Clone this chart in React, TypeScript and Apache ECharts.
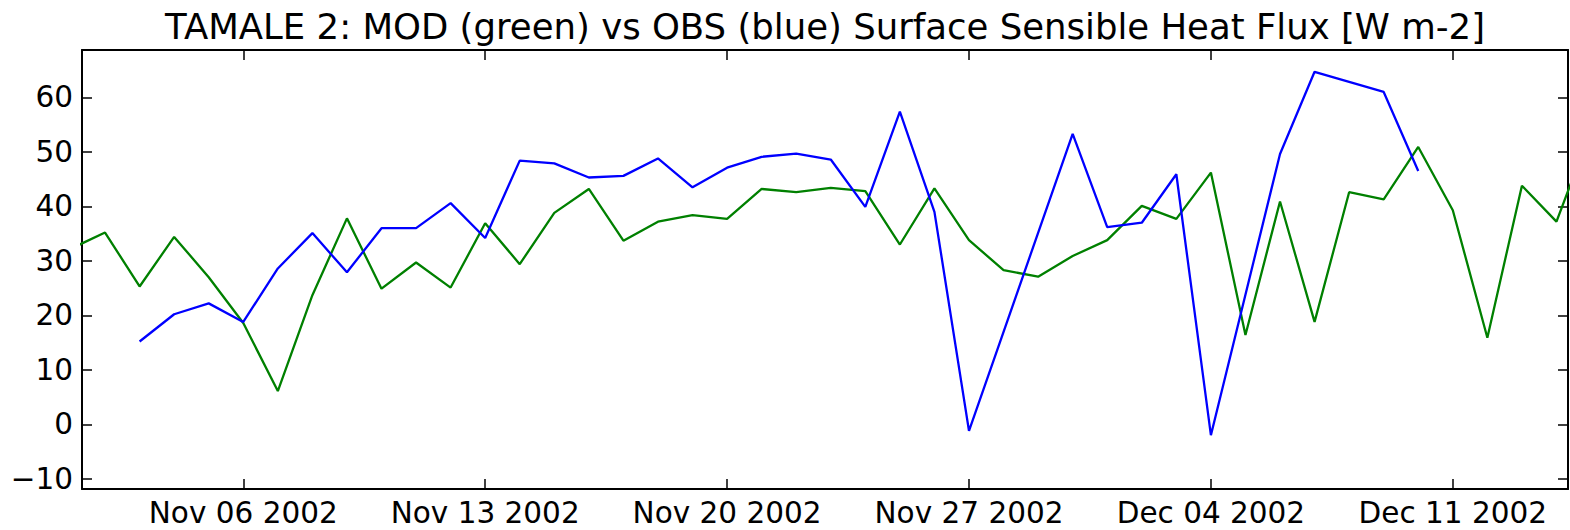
import React, { useEffect, useRef } from "react";
import * as echarts from "echarts";

// ---- Data ----
const TITLE = "TAMALE 2: MOD (green) vs OBS (blue) Surface Sensible Heat Flux [W m-2]";

// MOD: daily values from 2002-11-01 to 2002-12-15
const modStart = "2002-11-01";
const modValues = [
  32.2, 35.2, 25.3, 34.4, 27.0, 18.6, 6.1, 23.7, 37.8, 24.9,
  29.7, 25.1, 36.9, 29.4, 38.8, 43.2, 33.7, 37.2, 38.4, 37.7,
  43.2, 42.6, 43.4, 42.8, 33.0, 43.3, 33.8, 28.3, 27.1, 30.9,
  33.8, 40.1, 37.7, 46.2, 16.4, 40.9, 18.8, 42.6, 41.3, 50.9,
  39.3, 15.9, 43.8, 37.2, 54.0,
];

// OBS: dates with observations
const obsDates = [
  "2002-11-03", "2002-11-04", "2002-11-05", "2002-11-06", "2002-11-07",
  "2002-11-08", "2002-11-09", "2002-11-10", "2002-11-11", "2002-11-12",
  "2002-11-13", "2002-11-14", "2002-11-15", "2002-11-16", "2002-11-17",
  "2002-11-18", "2002-11-19", "2002-11-20", "2002-11-21", "2002-11-22",
  "2002-11-23", "2002-11-24", "2002-11-25", "2002-11-26", "2002-11-27",
  "2002-11-30", "2002-12-01", "2002-12-02", "2002-12-03", "2002-12-04",
  "2002-12-06", "2002-12-07", "2002-12-09", "2002-12-10",
];
const obsValues = [
  15.2, 20.2, 22.2, 18.8, 28.6,
  35.1, 27.9, 36.0, 36.0, 40.6,
  34.2, 48.4, 47.9, 45.3, 45.6,
  48.8, 43.5, 47.1, 49.1, 49.7,
  48.6, 39.9, 57.4, 39.0, -1.2,
  53.3, 36.2, 37.0, 45.9, -2.0,
  49.6, 64.7, 61.0, 46.5,
];

const xTickDates = ["2002-11-06", "2002-11-13", "2002-11-20", "2002-11-27", "2002-12-04", "2002-12-11"];
const yTickValues = [-10, 0, 10, 20, 30, 40, 50, 60];
const xRange = ["2002-11-01T08:00:00Z", "2002-12-14T08:00:00Z"];
const yRange = [-11.87, 68.7];

const MONTHS = ["Jan", "Feb", "Mar", "Apr", "May", "Jun", "Jul", "Aug", "Sep", "Oct", "Nov", "Dec"];
const DAY = 86400000;
const ts = (s: string) => Date.parse(s.length === 10 ? s + "T00:00:00Z" : s);
const fmtDate = (v: number) => {
  const d = new Date(v);
  const dd = String(d.getUTCDate()).padStart(2, "0");
  return `${MONTHS[d.getUTCMonth()]} ${dd} ${d.getUTCFullYear()}`;
};

const FONT = "DejaVu Sans";

export default function App() {
  const ref = useRef<HTMLDivElement>(null);

  useEffect(() => {
    if (!ref.current) return;
    const chart = echarts.init(ref.current, undefined, { renderer: "svg" });

    const t0 = ts(modStart);
    const modData = modValues.map((v, i) => [t0 + i * DAY, v]);
    const obsData = obsDates.map((d, i) => [ts(d), obsValues[i]]);
    const xTicks = xTickDates.map(ts);

    const axisLine = { show: true, onZero: false, lineStyle: { color: "#000", width: 2 } };
    const tickStyle = { color: "#000", width: 1.5 };

    const xBase = {
      type: "value" as const,
      min: ts(xRange[0]),
      max: ts(xRange[1]),
      splitLine: { show: false },
      axisLine,
      axisTick: { show: true, inside: true, length: 10, lineStyle: tickStyle, customValues: xTicks },
    };
    const yBase = {
      type: "value" as const,
      min: yRange[0],
      max: yRange[1],
      splitLine: { show: false },
      axisLine,
      axisTick: { show: true, inside: true, length: 10, lineStyle: tickStyle, customValues: yTickValues },
    };

    chart.setOption({
      animation: false,
      backgroundColor: "#fff",
      grid: { left: 82, right: 2, top: 50, bottom: 41, containLabel: false },
      graphic: [
        {
          type: "text",
          x: 825,
          y: 8,
          style: {
            text: TITLE,
            fontSize: 35.5,
            fontFamily: FONT,
            fill: "#000",
            textAlign: "center",
            textVerticalAlign: "top",
          },
        },
      ],
      xAxis: [
        {
          ...xBase,
          position: "bottom",
          axisLabel: {
            show: true,
            customValues: xTicks,
            formatter: (v: number) => fmtDate(v),
            fontSize: 29.5,
            fontFamily: FONT,
            color: "#000",
            margin: 9,
          },
        },
        { ...xBase, position: "top", axisLabel: { show: false } },
      ],
      yAxis: [
        {
          ...yBase,
          position: "left",
          axisLabel: {
            show: true,
            customValues: yTickValues,
            formatter: (v: number) => (v < 0 ? "\u2212" + Math.abs(v) : String(v)),
            fontSize: 29.5,
            fontFamily: FONT,
            color: "#000",
            margin: 9,
          },
        },
        { ...yBase, position: "right", axisLabel: { show: false } },
      ],
      series: [
        {
          name: "MOD",
          type: "line",
          xAxisIndex: 0,
          yAxisIndex: 0,
          data: modData,
          showSymbol: false,
          symbol: "none",
          clip: true,
          lineStyle: { color: "#008000", width: 2.3 },
          itemStyle: { color: "#008000" },
        },
        {
          name: "OBS",
          type: "line",
          xAxisIndex: 0,
          yAxisIndex: 0,
          data: obsData,
          showSymbol: false,
          symbol: "none",
          clip: true,
          lineStyle: { color: "#0000ff", width: 2.3 },
          itemStyle: { color: "#0000ff" },
        },
      ],
    });

    return () => chart.dispose();
  }, []);

  return (
    <div
      ref={ref}
      style={{ position: "fixed", left: 0, top: 0, width: 1570, height: 530, background: "#fff" }}
    />
  );
}
